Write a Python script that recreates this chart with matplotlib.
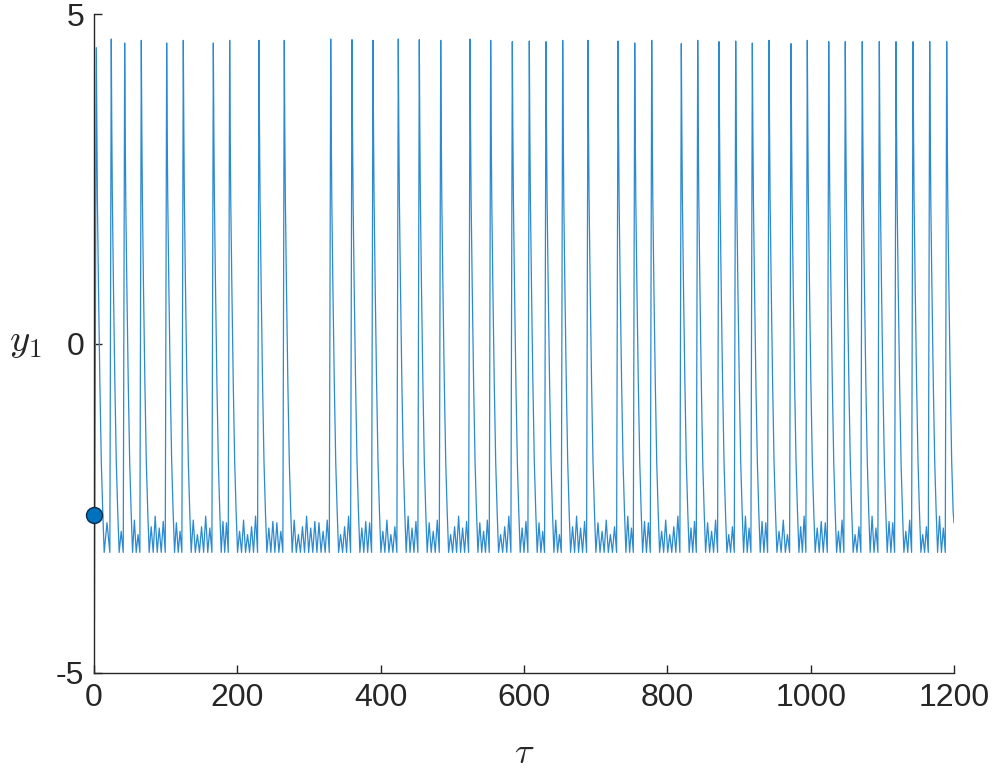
import matplotlib
matplotlib.use("Agg")
import matplotlib.pyplot as plt
import numpy as np

plt.rcParams["font.family"] = ["Liberation Sans", "DejaVu Sans"]
plt.rcParams["mathtext.fontset"] = "cm"
plt.rcParams["axes.unicode_minus"] = False

# spike times (tau) and peak heights
spike_tau = [3.2, 24.1, 42.8, 66.0, 101.4, 124.6, 166.5, 189.3, 230.2, 265.5,
             330.3, 360.0, 389.3, 424.6, 453.9, 483.8, 524.7, 553.5, 583.7, 607.4,
             630.7, 654.0, 689.3, 731.2, 754.5, 778.2, 819.5, 842.4, 872.1, 895.4,
             918.6, 941.9, 972.6, 995.3, 1025.2, 1048.3, 1072.0, 1095.8, 1119.1,
             1142.8, 1166.1, 1189.8]
spike_peak = [4.49, 4.62, 4.56, 4.60, 4.56, 4.60, 4.56, 4.60, 4.60, 4.60,
              4.62, 4.61, 4.60, 4.62, 4.61, 4.60, 4.62, 4.60, 4.58, 4.59,
              4.58, 4.60, 4.60, 4.59, 4.56, 4.60, 4.55, 4.60, 4.58, 4.59,
              4.56, 4.60, 4.55, 4.60, 4.58, 4.58, 4.58, 4.58, 4.58, 4.58,
              4.58, 4.58]

# decay after each spike (offset from spike, value)
decay_dt = [0.7, 1.5, 3.0, 5.0, 7.0, 9.0]
decay_val = [3.3, 2.2, 0.9, -0.6, -1.8, -2.55]

# small oscillations near the floor
trough_val = -3.17
sub_peaks = [-2.72, -2.85, -2.68, -2.9, -2.78, -2.62, -2.8, -2.7]
osc_period = 5.8

# start of the trajectory
y0 = -2.61
start_tau = [0.0, 0.6]
start_val = [-2.61, -4.2]
end_tau = 1200.0

t = list(start_tau)
y = list(start_val)
k = 0
for i, (ts, p) in enumerate(zip(spike_tau, spike_peak)):
    t.append(ts)
    y.append(p)
    t_next = spike_tau[i + 1] if i + 1 < len(spike_tau) else None
    for dt, v in zip(decay_dt, decay_val):
        if t_next is None and ts + dt > end_tau:
            break
        t.append(ts + dt)
        y.append(v)
    if t_next is None:
        t.append(end_tau)
        y.append(-2.72)
        break
    a = ts + 11.0
    b = t_next - 2.0
    if b <= a:
        t.append(b)
        y.append(trough_val)
        continue
    n = max(int(round((b - a) / osc_period)), 0)
    troughs = np.linspace(a, b, n + 1)
    for j, tt in enumerate(troughs):
        t.append(tt)
        y.append(trough_val)
        if j < len(troughs) - 1:
            t.append((tt + troughs[j + 1]) / 2)
            y.append(sub_peaks[k % len(sub_peaks)])
            k += 1

fig = plt.figure(figsize=(9.97, 7.76), dpi=100)
ax = fig.add_axes([94 / 997, 1 - 673 / 776, 860 / 997, 659 / 776])

ax.plot(t, y, color="#2b8ad0", lw=0.9)
ax.plot([0], [y0], "o", color="#0072BD", markersize=11.5,
        markeredgecolor="#0b2a4a", markeredgewidth=1.0, clip_on=False, zorder=5)

ax.set_xlim(0, 1200)
ax.set_ylim(-5, 5)
ax.set_xticks(np.arange(0, 1201, 200))
ax.set_yticks([-5, 0, 5])

for s in ["top", "right"]:
    ax.spines[s].set_visible(False)
for s in ["left", "bottom"]:
    ax.spines[s].set_color("#262626")
    ax.spines[s].set_linewidth(1.0)
ax.tick_params(direction="in", length=6, width=1.0, colors="#262626",
               labelsize=23, pad=7)

ax.set_xlabel(r"$\tau$", fontsize=26, color="#262626")
ax.xaxis.set_label_coords(0.5, -0.095)
ax.set_ylabel(r"$y_1$", fontsize=28, rotation=0, color="#262626")
ax.yaxis.set_label_coords(-0.08, 0.475)

fig.savefig("out.png", dpi=100)
